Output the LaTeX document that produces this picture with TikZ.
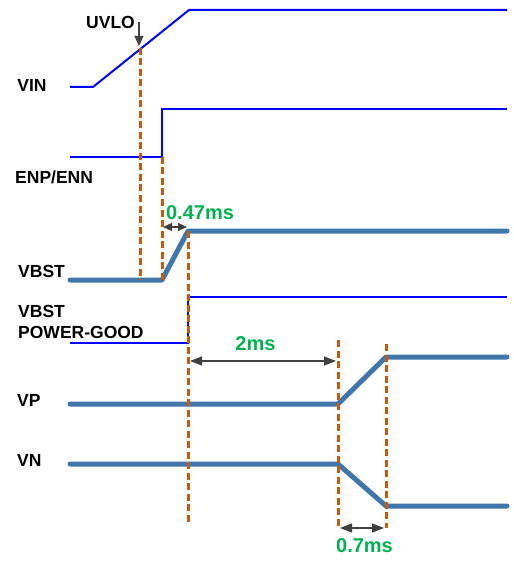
\documentclass[tikz,border=0pt]{standalone}
\usepackage{fontspec}
\setmainfont{Liberation Sans}
\usetikzlibrary{arrows.meta}
\definecolor{sigblue}{RGB}{0,0,255}
\definecolor{railblue}{RGB}{64,118,170}
\definecolor{markorange}{RGB}{197,90,17}
\definecolor{timegreen}{RGB}{0,176,80}
\definecolor{dimgray}{RGB}{64,64,64}
\tikzset{
  lbl/.style={font=\fontsize{17.5}{18}\selectfont\bfseries, text=black, inner sep=0pt},
  tlbl/.style={font=\fontsize{20}{21}\selectfont\bfseries, text=timegreen, inner sep=0pt},
  thinsig/.style={draw=sigblue, line width=2pt},
  pgsig/.style={draw=sigblue, line width=1.6pt},
  railsig/.style={draw=railblue, line width=5pt, line cap=round, line join=round},
  markline/.style={draw=markorange, line width=3pt, dash pattern=on 7pt off 3.5pt},
  dimline/.style={draw=dimgray, line width=1.2pt, {Triangle[length=12pt,width=9pt]}-{Triangle[length=12pt,width=9pt]}},
  smalldim/.style={draw=dimgray, line width=1.2pt, {Triangle[length=9pt,width=8pt]}-{Triangle[length=9pt,width=8pt]}},
  ptrline/.style={draw=dimgray, line width=1.2pt, -{Triangle[length=10pt,width=9pt]}}
}
\begin{document}
\begin{tikzpicture}[x=1pt,y=-1pt]
\useasboundingbox (0,0) rectangle (513,561);
% labels
\node[lbl] (lvin) at (32,85) {VIN};
\node[lbl] (luvlo) at (110.5,22) {UVLO};
\node[lbl, anchor=west] (lenp) at (15,177) {ENP/ENN};
\node[lbl, anchor=west] (lvbst) at (18,271) {VBST};
\node[lbl, anchor=west] (lvbst2) at (18,311) {VBST};
\node[lbl, anchor=west] (lpg) at (18,332.5) {POWER-GOOD};
\node[lbl, anchor=west] (lvp) at (17,400) {VP};
\node[lbl, anchor=west] (lvn) at (17,460) {VN};
\node[tlbl] (t047) at (200,212.5) {0.47ms};
\node[tlbl] (t2) at (255.5,344) {2ms};
\node[tlbl] (t07) at (364.5,546) {0.7ms};
% coordinates
\coordinate (uvlo) at (140,48);
\coordinate (en) at (162,157);
\coordinate (bst) at (188,231);
\coordinate (vps) at (338,404);
\coordinate (vpe) at (386,357);
% signals
\draw[thinsig] (70,87) -- (93,87) -- (189,10) -- (507,10);
\draw[thinsig] (70,157) -- (en) -- (162,109) -- (507,109);
\draw[railsig] (70,280) -- (162,280) -- (bst) -- (507,231);
\draw[pgsig] (70,343) -- (188,343) -- (188,297) -- (507,297);
\draw[railsig] (70,404) -- (vps) -- (vpe) -- (507,357);
\draw[railsig] (70,464) -- (338,464) -- (386,506) -- (507,506);
% markers
\draw[markline] (uvlo) -- (140,280);
\draw[markline] (en) -- (162,280);
\draw[markline] (bst) -- (188,525);
\draw[markline] (338,340) -- (338,528);
\draw[markline] (386,344) -- (386,528);
% dimension arrows
\coordinate (uvtop) at (139,22);
\coordinate (uvtip) at (139,46);
\draw[ptrline] (uvtop) -- (uvtip);
\draw[smalldim] (163,227) -- (187,227);
\draw[dimline] (190,361) -- (336,361);
\draw[dimline] (340,528) -- (384,528);
\end{tikzpicture}
\end{document}
